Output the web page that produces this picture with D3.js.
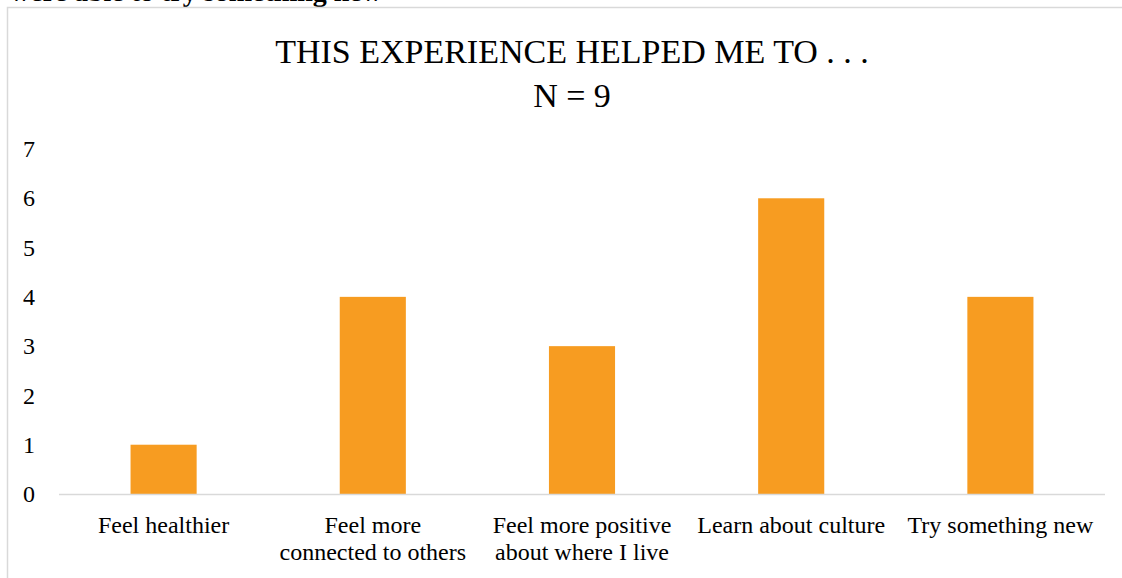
<!DOCTYPE html>
<html>
<head>
<meta charset="utf-8">
<script src="https://cdn.jsdelivr.net/npm/d3@7"></script>
<style>
  body { margin: 0; background: #fff; }
  .chart svg { display: block; }
</style>
</head>
<body>
<div class="chart"></div>
<script>
const categories = [
  ["Feel healthier"],
  ["Feel more", "connected to others"],
  ["Feel more positive", "about where I live"],
  ["Learn about culture"],
  ["Try something new"]
];
const counts = [1, 4, 3, 6, 4];
const yTicks = [0, 1, 2, 3, 4, 5, 6, 7];

window.onload = function() {
  const W = 1122, H = 578;
  const margin = { top: 149, bottom: 84, left: 59, right: 17 };
  const w = W - margin.left - margin.right;
  const h = H - margin.top - margin.bottom;
  const serif = "Liberation Serif, serif";

  const root = d3.select(".chart").append("svg")
    .attr("width", W)
    .attr("height", H);

  // heading of the page, cut off by the crop
  root.append("text")
    .attr("x", 10).attr("y", 1)
    .attr("font-family", serif)
    .attr("font-weight", "bold")
    .attr("font-size", 28)
    .attr("fill", "#000")
    .text("were able to try something new");

  // chart area border
  root.append("rect")
    .attr("x", 7.5).attr("y", 7.5)
    .attr("width", W + 20).attr("height", H + 20)
    .attr("fill", "#fff")
    .attr("stroke", "#d9d9d9")
    .attr("stroke-width", 1.5);

  root.append("text")
    .attr("x", 572).attr("y", 63)
    .attr("text-anchor", "middle")
    .attr("font-family", serif)
    .attr("font-size", 34)
    .text("THIS EXPERIENCE HELPED ME TO . . .");
  root.append("text")
    .attr("x", 572).attr("y", 107)
    .attr("text-anchor", "middle")
    .attr("font-family", serif)
    .attr("font-size", 34)
    .text("N = 9");

  const svg = root.append("g")
    .attr("transform", "translate(" + margin.left + "," + margin.top + ")");

  const xScale = d3.scaleBand()
    .domain(d3.range(categories.length))
    .range([0, w])
    .paddingInner(0.684)
    .paddingOuter(0.342);

  const yScale = d3.scaleLinear()
    .domain([0, 7])
    .range([h, 0]);

  svg.selectAll(".bar")
    .data(counts)
    .enter().append("rect")
    .attr("class", "bar")
    .attr("x", (d, i) => xScale(i))
    .attr("width", xScale.bandwidth())
    .attr("y", d => yScale(d))
    .attr("height", d => h - yScale(d))
    .attr("fill", "#f79c21");

  const yAxis = svg.append("g")
    .call(d3.axisLeft(yScale).tickValues(yTicks).tickFormat(d3.format("d")).tickSize(0).tickPadding(24));
  yAxis.select(".domain").remove();
  yAxis.selectAll("text")
    .attr("font-family", serif)
    .attr("font-size", 24)
    .attr("fill", "#000");

  svg.append("line")
    .attr("x1", 0).attr("x2", w)
    .attr("y1", h + 0.5).attr("y2", h + 0.5)
    .attr("stroke", "#d9d9d9")
    .attr("stroke-width", 1.5);

  const xLabels = svg.selectAll(".xlabel")
    .data(categories)
    .enter().append("text")
    .attr("class", "xlabel")
    .attr("text-anchor", "middle")
    .attr("font-family", serif)
    .attr("font-size", 24)
    .attr("fill", "#000")
    .attr("transform", (d, i) => "translate(" + (xScale(i) + xScale.bandwidth() / 2) + "," + (h + 39) + ")");
  xLabels.selectAll("tspan")
    .data(d => d)
    .enter().append("tspan")
    .attr("x", 0)
    .attr("dy", (d, i) => i === 0 ? 0 : 27)
    .text(d => d);
};
</script>
</body>
</html>
